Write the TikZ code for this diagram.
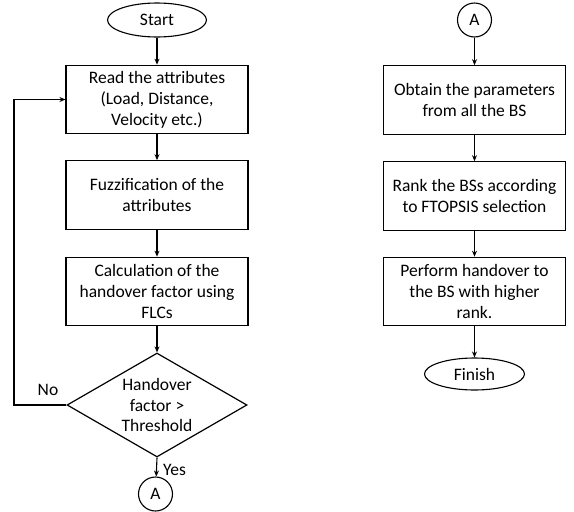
\documentclass[tikz,border=0pt]{standalone}
\usepackage{fontspec}
\setmainfont{Carlito}
\usetikzlibrary{shapes.geometric,arrows.meta}
\begin{document}
\begin{tikzpicture}[x=1pt,y=-1pt,
  every node/.style={font=\fontsize{17.5}{20.9}\selectfont},
  box/.style={draw, line width=1.2pt, minimum width=182pt, minimum height=68.5pt, inner sep=0pt, align=center},
  term/.style={draw, ellipse, line width=1.1pt, minimum width=99pt, minimum height=34pt, inner sep=0pt},
  conn/.style={draw, circle, line width=1.1pt, minimum size=34pt, inner sep=0pt},
  dec/.style={draw, diamond, line width=1.2pt, minimum width=180pt, minimum height=104pt, inner sep=0pt},
  arr/.style={line width=1.1pt, -{Stealth[length=6pt,width=5pt]}},
  lbl/.style={inner sep=0pt}
]
\useasboundingbox (0,0) rectangle (574,512);
% left column
\node[term] (start) at (157,20) {Start};
\node[box] (b1) at (157,99.5) {Read the attributes\\(Load, Distance,\\Velocity etc.)};
\node[box] (b2) at (157,195) {Fuzzification of the\\attributes};
\node[box] (b3) at (157,291.5) {Calculation of the\\handover factor using\\FLCs};
\node[dec] (d) at (157,405) {};
\node[align=center, inner sep=0pt] (dt) at (157,405) {Handover\\factor >\\Threshold};
\node[conn] (a1) at (155.5,494) {A};
\coordinate (lb) at (14,405);
\coordinate (lt) at (14,99.5);
\draw[arr] (start) -- (b1);
\draw[arr] (b1) -- (b2);
\draw[arr] (b2) -- (b3);
\draw[arr] (b3) -- (d.north);
\draw[arr] (d.south) -- (a1);
\draw[arr] (d.west) -- (lb) -- (lt) -- (b1.west);
\node[lbl] (no) at (48,390) {No};
\node[lbl, anchor=west] (yes) at (163,470) {Yes};
% right column
\node[conn] (a2) at (474.5,20) {A};
\node[box] (r1) at (474.5,100) {Obtain the parameters\\from all the BS};
\node[box] (r2) at (474.5,196) {Rank the BSs according\\to FTOPSIS selection};
\node[box] (r3) at (474.5,291.5) {Perform handover to\\the BS with higher\\rank.};
\node[term, minimum height=32pt, minimum width=100pt] (fin) at (474.5,374) {Finish};
\draw[arr] (a2) -- (r1);
\draw[arr] (r1) -- (r2);
\draw[arr] (r2) -- (r3);
\draw[arr] (r3) -- (fin);
\end{tikzpicture}
\end{document}
